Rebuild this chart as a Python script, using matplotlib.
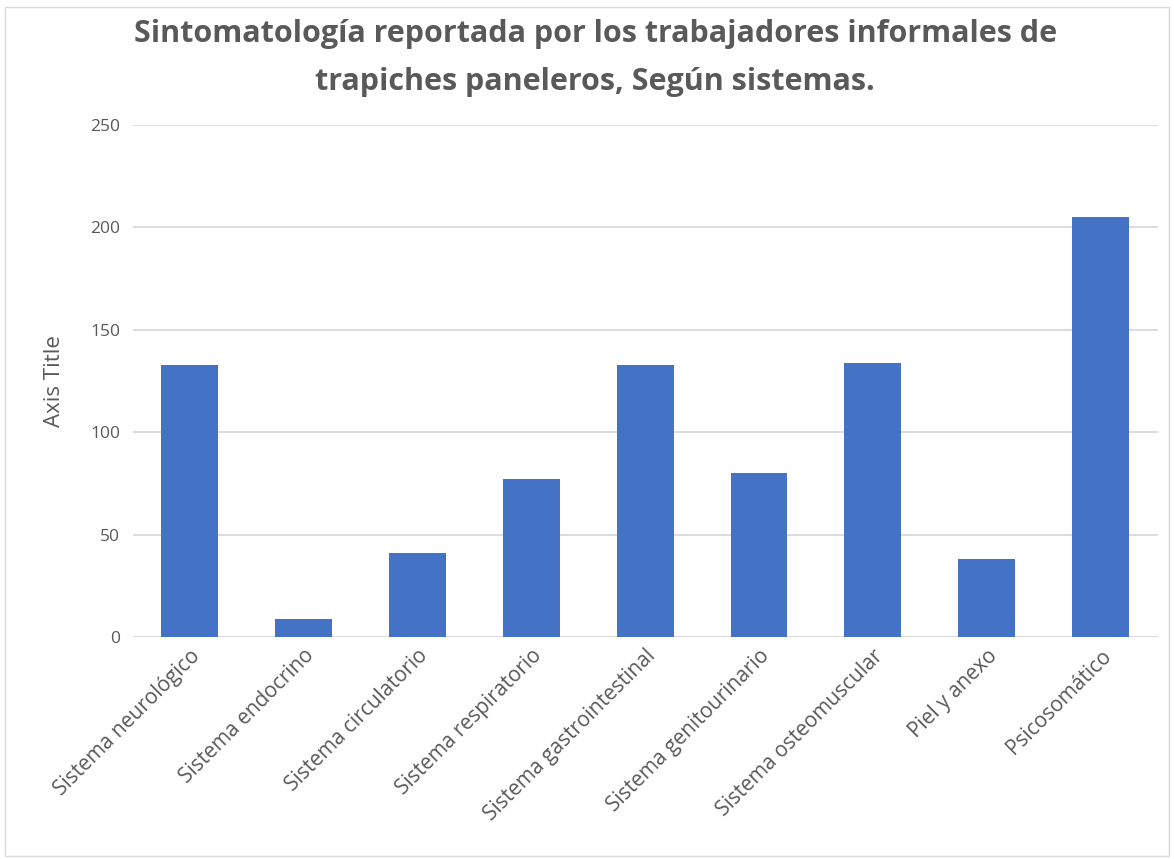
import matplotlib
matplotlib.use('Agg')
import matplotlib.pyplot as plt
from matplotlib.patches import Rectangle

categories = ['Sistema neurológico', 'Sistema endocrino', 'Sistema circulatorio',
              'Sistema respiratorio', 'Sistema gastrointestinal', 'Sistema genitourinario',
              'Sistema osteomuscular', 'Piel y anexo', 'Psicosomático']
values = [133, 9, 41, 77, 133, 80, 134, 38, 205]
yticks = [0, 50, 100, 150, 200, 250]

plt.rcParams['font.family'] = ['Open Sans', 'DejaVu Sans']
grey = '#595959'

fig = plt.figure(figsize=(11.74, 8.59), dpi=100)
ax = fig.add_axes([0.113, 0.2584, 0.873, 0.5961])

x = range(len(categories))
ax.bar(x, values, width=0.5, color='#4472C4', zorder=3)
ax.set_xlim(-0.5, len(categories) - 0.5)
ax.set_ylim(0, 250)
ax.set_yticks(yticks)
ax.grid(True, axis='y', color='#d9d9d9', linewidth=1.3, zorder=0)
for s in ax.spines.values():
    s.set_visible(False)
ax.tick_params(axis='both', length=0, colors=grey)
ax.tick_params(axis='y', pad=9, labelsize=12.5)
ax.tick_params(axis='x', pad=6, labelsize=15)
ax.set_xticks(list(x))
ax.set_xticklabels(categories, rotation=45, ha='right', rotation_mode='anchor')
ax.set_ylabel('Axis Title', color=grey, fontsize=16, labelpad=18)

fig.text(0.507, 0.961, 'Sintomatología reportada por los trabajadores informales de',
         ha='center', va='center', fontsize=22, fontweight='bold', color=grey)
fig.text(0.507, 0.905, 'trapiches paneleros, Según sistemas.',
         ha='center', va='center', fontsize=22, fontweight='bold', color=grey)

fig.patches.append(Rectangle((0.004, 0.004), 0.992, 0.988, transform=fig.transFigure,
                             fill=False, edgecolor='#d9d9d9', linewidth=1))

fig.savefig('out.png', dpi=100)
